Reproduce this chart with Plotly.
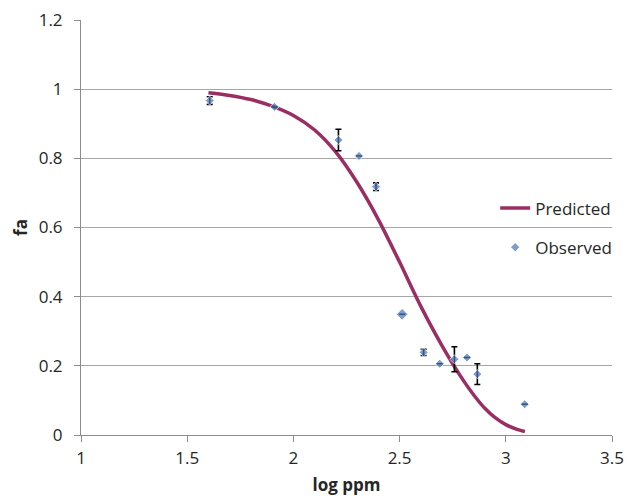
import plotly.graph_objects as go

# Observed data (log ppm vs fa) with error bars
obs_x = [1.606, 1.911, 2.212, 2.309, 2.389, 2.512, 2.613, 2.689, 2.758, 2.817, 2.866, 3.089]
obs_y = [0.967, 0.949, 0.853, 0.807, 0.718, 0.349, 0.239, 0.206, 0.219, 0.224, 0.176, 0.089]
obs_err = [0.011, 0.0, 0.031, 0.0, 0.011, 0.0, 0.009, 0.0, 0.036, 0.0, 0.030, 0.0]
obs_size = [7, 7, 7, 7, 7, 9, 7, 7, 7, 7, 7, 7]

# Predicted curve
pred_x = [1.60, 1.70, 1.80, 1.90, 2.00, 2.10, 2.20, 2.30, 2.40, 2.50,
          2.60, 2.70, 2.80, 2.85, 2.90, 2.95, 3.00, 3.05, 3.09]
pred_y = [0.990, 0.982, 0.970, 0.951, 0.924, 0.882, 0.818, 0.730, 0.623, 0.500,
          0.372, 0.258, 0.158, 0.115, 0.078, 0.050, 0.030, 0.017, 0.010]

x_ticks = [1, 1.5, 2, 2.5, 3, 3.5]
y_ticks = [0, 0.2, 0.4, 0.6, 0.8, 1, 1.2]

FONT = "Open Sans"
TXT = "#262626"

fig = go.Figure()
fig.add_trace(go.Scatter(
    x=pred_x, y=pred_y, mode="lines", name="Predicted",
    line=dict(color="#9A2E63", width=3.5, shape="spline", smoothing=0.8),
    legendgroup="a",
))
fig.add_trace(go.Scatter(
    x=obs_x, y=obs_y, mode="markers", name="Observed",
    marker=dict(symbol="diamond", size=obs_size, color="#4A76BA"),
    error_y=dict(type="data", array=obs_err, visible=True, color="#000000",
                 thickness=1.6, width=3),
    legendgroup="b",
))

fig.update_layout(
    width=629, height=496,
    margin=dict(l=81, r=13, t=20, b=61),
    paper_bgcolor="white", plot_bgcolor="white",
    font=dict(family=FONT, size=17, color=TXT),
    showlegend=True,
    legend=dict(x=0.78, y=0.589, xanchor="left", yanchor="top",
                bgcolor="rgba(0,0,0,0)", font=dict(size=17, color=TXT),
                tracegroupgap=14, itemwidth=30),
    xaxis=dict(
        range=[1, 3.5], tickmode="array", tickvals=x_ticks,
        ticktext=[str(v) for v in x_ticks], automargin=False,
        showgrid=False, zeroline=False,
        showline=True, linecolor="#8C8C8C", linewidth=1,
        ticks="outside", ticklen=6, tickcolor="#8C8C8C", ticklabelstandoff=2,
        title=dict(text="<b>log ppm</b>", font=dict(size=17, color=TXT), standoff=12),
    ),
    yaxis=dict(
        range=[0, 1.2001], tickmode="array", tickvals=y_ticks,
        ticktext=["0", "0.2", "0.4", "0.6", "0.8", "1", "1.2"], automargin=False,
        showgrid=True, gridcolor="#A6A6A6", gridwidth=1, zeroline=False,
        showline=True, linecolor="#8C8C8C", linewidth=1,
        ticks="outside", ticklen=6, tickcolor="#8C8C8C", ticklabelstandoff=8,
        title=dict(text="<b>fa</b>", font=dict(size=17, color=TXT), standoff=6),
    ),
)

fig.write_html(
    "out.html",
    config={"displayModeBar": False},
    post_script="document.body.style.margin='0';document.body.style.overflow='hidden';",
)
